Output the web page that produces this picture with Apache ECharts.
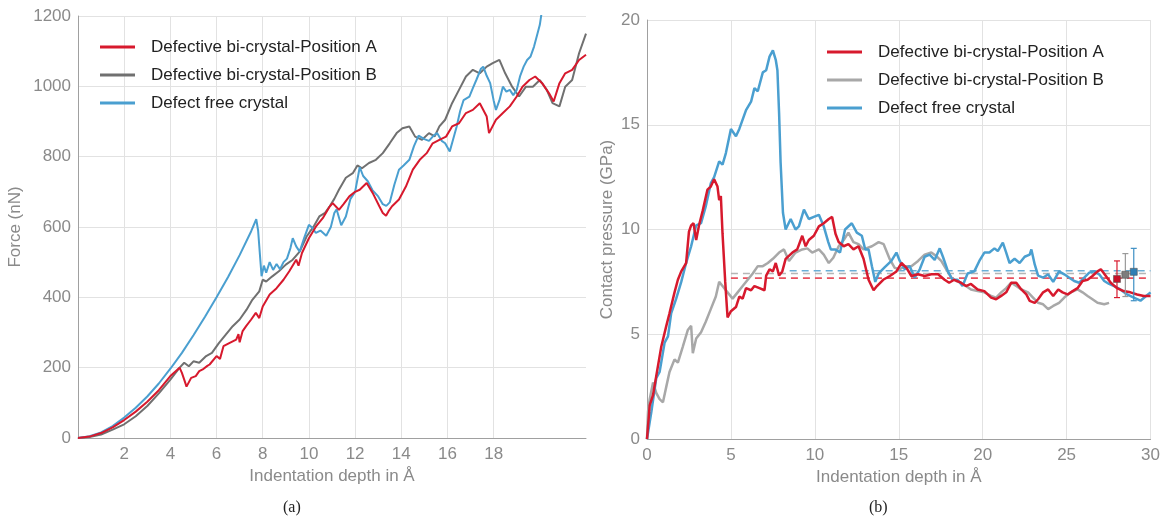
<!DOCTYPE html>
<html lang="en">
<head>
<meta charset="UTF-8">
<style>
    html, body { height: 100%; margin: 0; background: #fff; }
    #chart { width: 1163px; height: 522px; }
</style>
</head>
<body>
<div id="chart"></div>
<script src="https://cdn.jsdelivr.net/npm/echarts@6.0.0/dist/echarts.min.js"></script>
<script>
// ---- series names
var nameA = 'Defective bi-crystal-Position A';
var nameB = 'Defective bi-crystal-Position B';
var nameFree = 'Defect free crystal';

// ---- panel (a): force (nN) vs indentation depth (Å)
var forceA = [[0,0],[0.5,4],[1,14],[1.5,30],[2,51],[2.5,75],[3,103],[3.5,136],[4,176],[4.4,200],[4.5,185],[4.6,166],[4.7,146],[4.9,171],[5.1,176],[5.25,190],[5.4,195],[5.6,205],[5.7,209],[6.0,233],[6.15,225],[6.3,261],[6.55,270],[6.85,280],[6.95,295],[7.0,272],[7.13,304],[7.28,318],[7.5,337],[7.7,356],[7.85,341],[8.0,374],[8.3,408],[8.6,426],[8.9,450],[9.15,474],[9.45,507],[9.55,490],[9.7,526],[10.0,568],[10.3,601],[10.6,625],[10.9,658],[11.03,668],[11.3,649],[11.5,665],[11.75,687],[12.0,700],[12.2,706],[12.5,725],[12.76,697],[13.05,659],[13.2,640],[13.34,632],[13.45,645],[13.6,659],[13.9,678],[14.2,715],[14.5,763],[14.8,791],[15.1,810],[15.36,838],[15.65,848],[15.94,857],[16.2,886],[16.5,895],[16.8,924],[17.1,933],[17.4,952],[17.7,914],[17.8,867],[18.1,905],[18.4,924],[18.7,943],[19.0,971],[19.25,999],[19.55,1018],[19.8,1028],[20.1,1009],[20.4,980],[20.6,957],[20.85,1009],[21.1,1037],[21.4,1047],[21.7,1075],[22,1090]];
var forceB = [[0,0],[0.5,3],[1,10],[1.5,24],[2,39],[2.5,62],[3,91],[3.5,127],[4,166],[4.4,200],[4.6,214],[4.8,204],[5.0,218],[5.25,214],[5.55,233],[5.8,242],[6.1,270],[6.4,294],[6.7,318],[7.0,337],[7.3,365],[7.55,393],[7.85,417],[8.0,450],[8.15,445],[8.4,459],[8.7,474],[9.0,493],[9.3,507],[9.6,530],[9.9,573],[10.2,601],[10.45,630],[10.7,640],[10.9,659],[11.1,680],[11.3,706],[11.6,740],[11.9,753],[12.1,775],[12.3,767],[12.6,782],[12.9,791],[13.2,810],[13.5,838],[13.8,867],[14.05,881],[14.35,886],[14.6,857],[14.9,848],[15.2,867],[15.45,858],[15.65,886],[15.9,905],[16.2,952],[16.5,990],[16.8,1028],[17.1,1047],[17.4,1037],[17.7,1056],[17.96,1066],[18.25,1075],[18.5,1037],[18.8,999],[19.1,971],[19.4,999],[19.7,999],[20.0,1018],[20.3,990],[20.55,952],[20.85,943],[21.1,999],[21.4,1018],[21.7,1094],[22,1150]];
var forceFree = [[0,0],[0.5,5],[1,16],[1.5,34],[2,58],[2.5,86],[3,118],[3.5,155],[4,197],[4.5,242],[5,292],[5.5,345],[6,400],[6.5,458],[7,520],[7.5,588],[7.72,622],[7.8,590],[7.88,520],[7.95,460],[8.05,490],[8.15,470],[8.3,500],[8.45,478],[8.6,495],[8.75,480],[8.9,500],[9.05,510],[9.2,540],[9.3,568],[9.45,545],[9.6,530],[9.8,570],[10.0,606],[10.15,598],[10.3,583],[10.5,590],[10.75,575],[10.95,600],[11.1,640],[11.2,650],[11.4,605],[11.6,630],[11.8,680],[12.0,700],[12.2,770],[12.35,745],[12.55,730],[12.75,705],[13.0,687],[13.2,665],[13.35,660],[13.5,670],[13.7,720],[13.9,763],[14.1,775],[14.35,791],[14.55,830],[14.75,860],[15.0,850],[15.2,845],[15.4,860],[15.55,867],[15.75,845],[15.9,838],[16.1,815],[16.25,850],[16.4,886],[16.55,930],[16.7,961],[16.95,971],[17.1,995],[17.25,1018],[17.45,1050],[17.55,1056],[17.7,1030],[17.85,1009],[18.0,960],[18.1,933],[18.25,960],[18.4,999],[18.55,985],[18.7,990],[18.85,975],[19.0,990],[19.15,1030],[19.3,1056],[19.45,1075],[19.6,1085],[19.75,1113],[19.9,1150],[20.0,1175],[20.08,1210]];
var forceDepthTicks = [2, 4, 6, 8, 10, 12, 14, 16, 18];

// ---- panel (b): contact pressure (GPa) vs indentation depth (Å)
var pressureA = [[0,0],[0.16,1.6],[0.36,2.1],[0.55,3.0],[0.85,4.4],[1.15,5.4],[1.34,6.0],[1.64,7.0],[1.84,7.6],[2.04,8.0],[2.33,8.4],[2.5,9.9],[2.63,10.2],[2.77,10.3],[2.93,9.5],[3.1,10.2],[3.32,10.9],[3.6,11.9],[3.8,12.05],[4.0,12.4],[4.2,12.05],[4.3,11.4],[4.4,11.6],[4.5,9.8],[4.66,7.5],[4.8,5.8],[5.0,6.1],[5.3,6.3],[5.5,6.8],[5.7,6.7],[5.9,7.2],[6.2,7.1],[6.4,7.3],[6.7,7.2],[7.0,7.1],[7.1,7.8],[7.3,8.1],[7.5,8.0],[7.67,8.4],[7.87,7.8],[8.06,8.0],[8.26,8.6],[8.66,8.9],[8.95,9.05],[9.25,9.7],[9.45,9.2],[9.64,9.5],[9.94,9.7],[10.24,10.15],[10.53,10.3],[10.83,10.5],[11.03,10.6],[11.23,9.8],[11.42,9.4],[11.72,9.2],[12.0,9.3],[12.3,9.05],[12.6,9.2],[12.9,8.6],[13.2,7.6],[13.5,7.1],[13.7,7.3],[14.07,7.6],[14.47,7.78],[14.86,8.0],[15.16,8.4],[15.46,8.17],[15.75,7.78],[16.15,7.86],[16.54,7.78],[16.94,7.86],[17.34,7.86],[17.73,7.6],[18.0,7.46],[18.3,7.6],[18.7,7.46],[19.0,7.3],[19.3,7.4],[19.7,7.14],[20.1,7.06],[20.5,6.75],[20.8,6.67],[21.1,6.83],[21.4,7.0],[21.7,7.46],[22.0,7.46],[22.3,7.14],[22.6,6.9],[22.8,6.59],[23.1,6.5],[23.3,6.67],[23.6,7.0],[23.9,7.14],[24.2,6.83],[24.5,7.14],[24.76,7.0],[25.06,6.9],[25.36,7.06],[25.65,7.2],[25.95,7.54],[26.25,7.6],[26.54,7.78],[26.84,8.0],[27.04,8.1],[27.34,7.78],[27.63,7.46],[28.0,7.2],[28.4,7.06],[28.8,7.0],[29.2,6.9],[29.6,6.83],[30,6.83]];
var pressureB = [[0,0],[0.06,1.3],[0.16,1.9],[0.36,2.7],[0.55,2.2],[0.75,1.9],[0.95,1.75],[1.15,2.5],[1.34,3.2],[1.64,3.8],[1.84,3.65],[2.13,4.4],[2.43,5.2],[2.63,5.4],[2.73,4.1],[2.93,4.8],[3.22,5.1],[3.5,5.6],[3.8,6.2],[4.1,6.8],[4.3,7.5],[4.5,7.3],[4.8,7.0],[5.1,6.7],[5.4,7.0],[5.7,7.3],[6.0,7.6],[6.3,7.9],[6.6,8.25],[6.9,8.25],[7.2,8.4],[7.5,8.6],[7.87,8.9],[8.16,9.05],[8.46,8.5],[8.85,8.9],[9.25,9.05],[9.55,9.1],[9.84,8.9],[10.24,9.05],[10.53,8.8],[10.83,8.4],[11.1,8.65],[11.42,9.2],[11.72,9.5],[12.0,9.85],[12.3,9.4],[12.6,9.3],[12.9,9.05],[13.4,9.2],[13.8,9.4],[14.1,9.3],[14.47,8.57],[14.76,8.17],[15.06,8.1],[15.36,8.25],[15.75,8.25],[16.15,8.5],[16.54,8.8],[16.94,8.9],[17.24,8.73],[17.53,8.5],[17.83,8.1],[18.13,7.7],[18.43,7.54],[18.72,7.46],[19.0,7.3],[19.3,7.14],[19.7,7.06],[20.1,7.0],[20.5,6.83],[20.8,6.75],[21.1,7.0],[21.4,7.2],[21.7,7.46],[22.0,7.3],[22.3,7.14],[22.7,7.0],[23.0,6.75],[23.3,6.5],[23.6,6.43],[23.9,6.2],[24.2,6.35],[24.55,6.5],[24.86,6.75],[25.25,7.0],[25.65,7.14],[25.95,7.0],[26.25,6.83],[26.54,6.67],[26.84,6.5],[27.24,6.43],[27.53,6.5]];
var pressureFree = [[0,0],[0.26,1.3],[0.55,2.9],[0.75,3.2],[1.05,4.6],[1.25,4.9],[1.44,6.0],[1.74,6.7],[2.04,7.5],[2.33,8.4],[2.63,9.2],[2.93,10.2],[3.22,10.3],[3.5,11.1],[3.8,12.2],[4.0,12.5],[4.3,13.25],[4.5,13.1],[4.7,13.65],[5.0,14.8],[5.3,14.45],[5.5,14.8],[5.9,15.7],[6.2,16.1],[6.4,16.75],[6.6,16.6],[6.9,17.5],[7.1,17.6],[7.3,18.25],[7.5,18.55],[7.67,18.1],[7.77,17.6],[7.87,15.55],[7.96,13.2],[8.1,10.8],[8.26,10.0],[8.56,10.5],[8.85,10.0],[9.05,10.15],[9.35,10.95],[9.64,10.5],[9.94,10.6],[10.24,10.7],[10.53,10.15],[10.8,9.4],[10.95,9.05],[11.23,9.05],[11.5,8.9],[11.8,10.0],[12.2,10.3],[12.5,9.85],[12.8,9.7],[13.0,9.05],[13.2,9.05],[13.4,8.25],[13.6,7.5],[13.8,7.9],[14.17,8.2],[14.56,8.5],[14.86,8.9],[15.06,8.5],[15.36,8.1],[15.65,8.25],[15.95,7.7],[16.25,8.1],[16.54,8.7],[16.84,8.8],[17.14,8.55],[17.44,9.1],[17.63,8.7],[17.93,8.0],[18.2,7.6],[18.5,7.6],[18.8,7.3],[19.1,7.9],[19.5,8.0],[19.8,8.5],[20.1,8.9],[20.4,8.9],[20.7,9.1],[20.9,8.97],[21.2,9.37],[21.4,8.9],[21.6,8.4],[21.9,8.6],[22.2,8.4],[22.5,8.7],[22.8,8.8],[22.9,9.05],[23.1,8.33],[23.3,7.8],[23.6,7.7],[23.9,7.86],[24.2,7.5],[24.55,8.0],[24.86,7.86],[25.16,7.7],[25.45,7.54],[25.75,7.46],[26.05,7.7],[26.35,7.94],[26.64,8.0],[26.94,7.86],[27.24,7.54],[27.53,7.4],[27.83,7.3],[28.2,7.14],[28.6,6.9],[29.0,6.75],[29.4,6.6],[29.7,6.8],[30,7.0]];

// mean pressure (dashed) : start depth, end depth, mean for A, B, free
var meanStart = [5, 5, 8.5];
var meanEnd = [30, 30, 30];
var meanValue = [7.68, 7.9, 8.03];

// error bars: depth, mean, low, high for A, B, free
var errDepth = [28, 28.5, 29];
var errMean = [7.64, 7.84, 7.98];
var errLow = [6.75, 6.8, 6.6];
var errHigh = [8.5, 8.85, 9.1];

var red = '#d7192d', grayDark = '#707070', grayLight = '#a8a8a8', blue = '#4a9fd0';
var dashColors = ['#e8505e', '#b5b5b5', '#6aaed6'];
var errColors = [red, '#9a9a9a', '#3d8fc4'];
var errFill = ['#c81028', '#7d7d7d', '#2f7fb5'];

var font = 'Liberation Sans';
var labelStyle = { color: '#8a8a8a', fontSize: 17, fontFamily: font };
var nameStyle = { color: '#8a8a8a', fontSize: 17, fontFamily: font };

function meanSeries(i) {
    return {
        type: 'line', xAxisIndex: 1, yAxisIndex: 1, symbol: 'none', silent: true,
        data: [[meanStart[i], meanValue[i]], [meanEnd[i], meanValue[i]]],
        lineStyle: { color: dashColors[i], width: 1.6, type: [7, 5] },
        z: 1
    };
}

function legendItems(colors) {
    return [nameA, nameB, nameFree].map(function (n, i) {
        return { name: n, itemStyle: { color: colors[i] } };
    });
}

var errData = errDepth.map(function (d, i) { return [d, errMean[i], errLow[i], errHigh[i], i]; });

var legendBase = {
    orient: 'vertical', icon: 'rect', itemWidth: 35, itemHeight: 3, itemGap: 8,
    textStyle: { fontSize: 17, color: '#222', fontFamily: font, lineHeight: 20, padding: [0, 0, 0, 11] },
    selectedMode: false
};

var myChart = echarts.init(document.getElementById('chart'));
myChart.setOption({
    animation: false,
    backgroundColor: '#fff',
    textStyle: { fontFamily: font },
    grid: [
        { left: 78, right: 577, top: 16, bottom: 84 },
        { left: 647, right: 12, top: 20, bottom: 83 }
    ],
    legend: [
        Object.assign({ left: 95, top: 32, data: legendItems([red, grayDark, blue]) }, legendBase),
        Object.assign({ left: 822, top: 37, data: legendItems([red, grayLight, blue]) }, legendBase)
    ],
    xAxis: [
        {
            gridIndex: 0, type: 'value', min: 0, max: 22, interval: 2,
            name: 'Indentation depth in Å', nameLocation: 'middle', nameGap: 29, nameTextStyle: nameStyle,
            axisLine: { show: true, lineStyle: { color: '#a0a0a0' } },
            axisTick: { show: false, customValues: forceDepthTicks },
            axisLabel: Object.assign({ margin: 8, customValues: forceDepthTicks }, labelStyle),
            splitLine: { show: true, lineStyle: { color: '#e2e2e2' } }
        },
        {
            gridIndex: 1, type: 'value', min: 0, max: 30, interval: 5,
            name: 'Indentation depth in Å', nameLocation: 'middle', nameGap: 29, nameTextStyle: nameStyle,
            axisLine: { show: true, lineStyle: { color: '#a0a0a0' } },
            axisTick: { show: false },
            axisLabel: Object.assign({ margin: 8 }, labelStyle),
            splitLine: { show: true, lineStyle: { color: '#e2e2e2' } }
        }
    ],
    yAxis: [
        {
            gridIndex: 0, type: 'value', min: 0, max: 1200, interval: 200,
            name: 'Force (nN)', nameLocation: 'middle', nameGap: 54, nameTextStyle: nameStyle,
            axisLine: { show: true, lineStyle: { color: '#a0a0a0' } },
            axisTick: { show: false },
            axisLabel: Object.assign({ margin: 7, formatter: function (v) { return String(v); } }, labelStyle),
            splitLine: { show: true, lineStyle: { color: '#e2e2e2' } }
        },
        {
            gridIndex: 1, type: 'value', min: 0, max: 20, interval: 5,
            name: 'Contact pressure (GPa)', nameLocation: 'middle', nameGap: 31, nameTextStyle: nameStyle,
            axisLine: { show: true, lineStyle: { color: '#a0a0a0' } },
            axisTick: { show: false },
            axisLabel: Object.assign({ margin: 7 }, labelStyle),
            splitLine: { show: true, lineStyle: { color: '#e2e2e2' } }
        }
    ],
    graphic: [
        { type: 'text', left: 283, top: 500, style: { text: '(a)', font: '16px "Liberation Serif"', fill: '#222' } },
        { type: 'text', left: 869, top: 500, style: { text: '(b)', font: '16px "Liberation Serif"', fill: '#222' } }
    ],
    series: [
        { name: nameB, type: 'line', xAxisIndex: 0, yAxisIndex: 0, symbol: 'none', data: forceB,
          lineStyle: { color: grayDark, width: 2 }, itemStyle: { color: grayDark }, z: 2 },
        { name: nameFree, type: 'line', xAxisIndex: 0, yAxisIndex: 0, symbol: 'none', data: forceFree,
          lineStyle: { color: blue, width: 2 }, itemStyle: { color: blue }, z: 3 },
        { name: nameA, type: 'line', xAxisIndex: 0, yAxisIndex: 0, symbol: 'none', data: forceA,
          lineStyle: { color: red, width: 2 }, itemStyle: { color: red }, z: 4 },

        meanSeries(0), meanSeries(1), meanSeries(2),

        { name: nameB, type: 'line', xAxisIndex: 1, yAxisIndex: 1, symbol: 'none', data: pressureB,
          lineStyle: { color: grayLight, width: 2.5 }, itemStyle: { color: grayLight }, z: 2 },
        { name: nameFree, type: 'line', xAxisIndex: 1, yAxisIndex: 1, symbol: 'none', data: pressureFree,
          lineStyle: { color: blue, width: 2.5 }, itemStyle: { color: blue }, z: 3 },
        { name: nameA, type: 'line', xAxisIndex: 1, yAxisIndex: 1, symbol: 'none', data: pressureA,
          lineStyle: { color: red, width: 2.5 }, itemStyle: { color: red }, z: 4 },

        {
            type: 'custom', xAxisIndex: 1, yAxisIndex: 1, silent: true, z: 6,
            data: errData,
            renderItem: function (params, api) {
                var i = api.value(4);
                var top = api.coord([api.value(0), api.value(3)]);
                var bot = api.coord([api.value(0), api.value(2)]);
                var mid = api.coord([api.value(0), api.value(1)]);
                var c = errColors[i];
                var cap = 3;
                return {
                    type: 'group',
                    children: [
                        { type: 'line', shape: { x1: top[0], y1: top[1], x2: bot[0], y2: bot[1] }, style: { stroke: c, lineWidth: 1.2 } },
                        { type: 'line', shape: { x1: top[0] - cap, y1: top[1], x2: top[0] + cap, y2: top[1] }, style: { stroke: c, lineWidth: 1.2 } },
                        { type: 'line', shape: { x1: bot[0] - cap, y1: bot[1], x2: bot[0] + cap, y2: bot[1] }, style: { stroke: c, lineWidth: 1.2 } },
                        { type: 'rect', shape: { x: mid[0] - 3.5, y: mid[1] - 3.5, width: 7, height: 7 }, style: { fill: errFill[i], stroke: '#555', lineWidth: 0.6 } }
                    ]
                };
            }
        }
    ]
});
</script>
</body>
</html>
